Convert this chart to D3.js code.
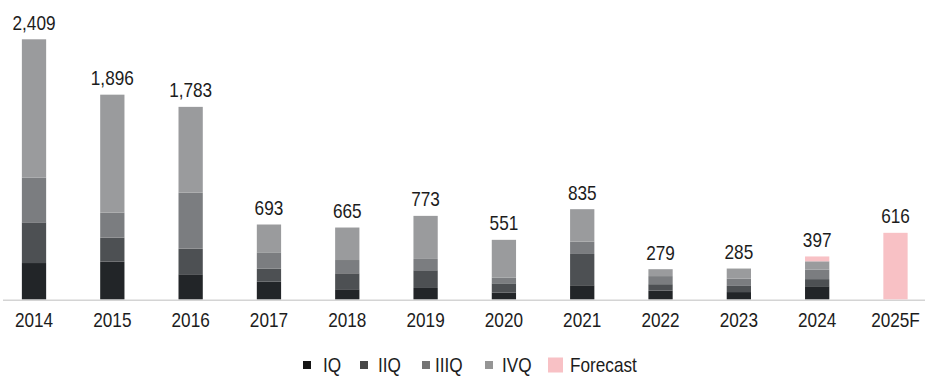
<!DOCTYPE html>
<html>
<head>
<meta charset="utf-8">
<script src="https://cdn.jsdelivr.net/npm/d3@7"></script>
<style>
  html, body { margin: 0; padding: 0; background: #fff; }
  svg { display: block; font-family: "Liberation Sans", Arial, sans-serif; }
  .lbl { font-size: 20px; fill: #1c1c1c; }
</style>
</head>
<body>
<svg id="chart" width="925" height="376"></svg>
<script>
  // Anni e trimestri
  const years = ["2014", "2015", "2016", "2017", "2018", "2019", "2020", "2021", "2022", "2023", "2024", "2025F"];
  const q1 = [336, 349, 232, 163, 93, 105, 61, 130, 80, 67, 121, 0];
  const q2 = [377, 222, 237, 120, 148, 164, 87, 290, 60, 57, 66, 0];
  const q3 = [414, 232, 519, 152, 123, 105, 52, 114, 75, 67, 89, 0];
  const q4 = [1282, 1093, 795, 258, 301, 399, 351, 301, 64, 94, 76, 0];
  const forecast = [0, 0, 0, 0, 0, 0, 0, 0, 0, 0, 45, 616];
  const totals = [2409, 1896, 1783, 693, 665, 773, 551, 835, 279, 285, 397, 616];

  const seriesKeys = ["IQ", "IIQ", "IIIQ", "IVQ", "Forecast"];
  const seriesColors = ["#222528", "#4d5053", "#7b7d80", "#9a9b9d", "#f8c1c5"];
  const legendColors = ["#151515", "#484848", "#747474", "#959595", "#f8c1c5"];

  const W = 925, H = 376;
  const SX = 0.86; // testo leggermente stretto come nell'originale

  const rows = years.map((y, i) => ({
    year: y, IQ: q1[i], IIQ: q2[i], IIIQ: q3[i], IVQ: q4[i], Forecast: forecast[i], total: totals[i],
  }));

  const svg = d3.select("#chart");

  const x = d3.scaleBand()
    .domain(years)
    .range([-5.15, 934.65])
    .paddingInner(0.69)
    .paddingOuter(0.345);

  const y = d3.scaleLinear()
    .domain([0, 2409])
    .range([299.3, 39.3]);

  const color = d3.scaleOrdinal().domain(seriesKeys).range(seriesColors);

  const stacked = d3.stack().keys(seriesKeys)(rows);

  // linea di base
  svg.append("line")
    .attr("x1", 3).attr("x2", W)
    .attr("y1", y(0) + 1).attr("y2", y(0) + 1)
    .attr("stroke", "#d4d4d4").attr("stroke-width", 1.5);

  svg.append("g")
    .selectAll("g")
    .data(stacked)
    .join("g")
    .attr("fill", (d) => color(d.key))
    .selectAll("rect")
    .data((d) => d.filter((s) => s[1] > s[0]))
    .join("rect")
    .attr("x", (d) => x(d.data.year))
    .attr("width", x.bandwidth())
    .attr("y", (d) => y(d[1]))
    .attr("height", (d) => y(d[0]) - y(d[1]));

  // etichette dei totali
  svg.append("g")
    .selectAll("text")
    .data(rows)
    .join("text")
    .attr("class", "lbl")
    .attr("text-anchor", "middle")
    .attr("transform", (d) => `translate(${x(d.year) + x.bandwidth() / 2},${y(d.total) - 9.5}) scale(${SX},1)`)
    .text((d) => d3.format(",")(d.total));

  // asse x
  const xAxis = svg.append("g")
    .attr("transform", `translate(0,${y(0)})`)
    .call(d3.axisBottom(x).tickSize(0).tickPadding(14));
  xAxis.select(".domain").remove();
  xAxis.selectAll("text")
    .attr("class", "lbl")
    .attr("font-family", null)
    .attr("font-size", null)
    .attr("fill", null)
    .attr("transform", `scale(${SX},1)`);

  // legenda
  const legendX = [303, 360, 422, 485, 548];
  const legendTextX = [323, 378, 435, 502, 570];
  const legend = svg.append("g");
  seriesKeys.forEach((k, i) => {
    const big = k === "Forecast";
    const s = big ? 15 : 8;
    legend.append("rect")
      .attr("x", legendX[i])
      .attr("y", 365 - s / 2)
      .attr("width", s).attr("height", s)
      .attr("fill", legendColors[i]);
    legend.append("text")
      .attr("class", "lbl")
      .attr("transform", `translate(${legendTextX[i]},371.5) scale(${SX},1)`)
      .text(k);
  });
</script>
</body>
</html>
